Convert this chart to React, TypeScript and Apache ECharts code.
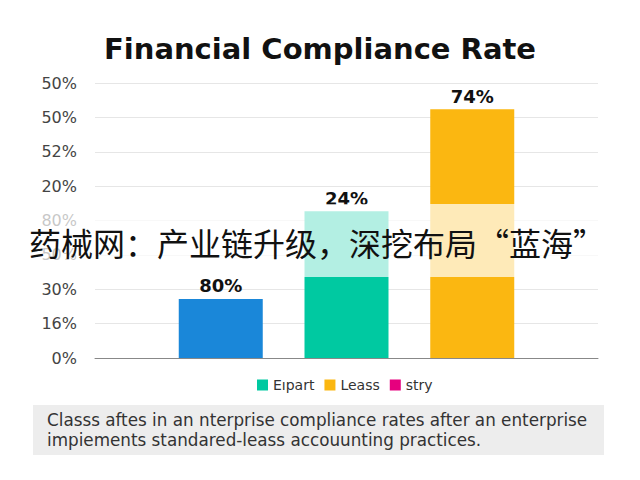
import React, { useEffect, useRef } from "react";
import * as echarts from "echarts";

const categories = ["", "A", "B", "C", ""];
const yTickLabels = ["0%", "16%", "30%", "50%", "80%", "20%", "52%", "50%", "50%"];
const baseValues = [null, 1.72, null, null, null];
const expartValues = [null, null, 4.27, null, null];
const leaseValues = [null, null, null, 7.24, null];
const storyValues: (number | null)[] = [null, null, null, null, null];
const barLabels = ["", "80%", "24%", "74%", ""];
const legendNames = ["Eıpart", "Leass", "stry"];
const titleText = "Financial Compliance Rate";
const bannerText = "药械网：产业链升级，深挖布局“蓝海”";
const noteLines = [
  "Classs aftes in an nterprise compliance rates after an enterprise",
  "impiements standared-leass accouunting practices.",
];

const FONT = "DejaVu Sans, Verdana, sans-serif";

export default function App() {
  const ref = useRef<HTMLDivElement>(null);
  useEffect(() => {
    if (!ref.current) return;
    const chart = echarts.init(ref.current, null, { renderer: "svg" });
    const labelCfg = {
      show: true,
      position: "top",
      distance: 4,
      fontSize: 18,
      fontWeight: "bold",
      color: "#111",
      fontFamily: FONT,
      formatter: (p: any) => barLabels[p.dataIndex],
    };
    const mk = (name: string, data: any[], color: string) => ({
      name,
      type: "bar",
      stack: "s",
      barWidth: 84,
      data,
      itemStyle: { color },
      label: labelCfg,
    });
    chart.setOption({
      animation: false,
      backgroundColor: "#ffffff",
      textStyle: { fontFamily: FONT },
      title: {
        text: titleText,
        left: "center",
        top: 29,
        textStyle: { fontSize: 29, fontWeight: "bold", color: "#111", fontFamily: FONT },
      },
      legend: {
        data: legendNames,
        top: 373,
        left: 252,
        icon: "rect",
        itemWidth: 11,
        itemHeight: 11,
        itemGap: 10,
        textStyle: { fontSize: 14, color: "#333", fontFamily: FONT },
      },
      grid: { left: 95, right: 42, top: 83, bottom: 122 },
      xAxis: {
        type: "category",
        data: categories,
        boundaryGap: false,
        axisTick: { show: false },
        axisLabel: { show: false },
        axisLine: { lineStyle: { color: "#888" } },
      },
      yAxis: {
        type: "value",
        min: 0,
        max: 8,
        interval: 1,
        axisLine: { show: false },
        axisTick: { show: false },
        splitLine: { lineStyle: { color: "#e6e6e6" } },
        axisLabel: {
          margin: 18,
          fontSize: 16,
          color: "#444",
          fontFamily: FONT,
          formatter: (v: number) => yTickLabels[Math.round(v)] ?? "",
        },
      },
      series: [
        mk("Base", baseValues, "#1a87d9"),
        mk("Eıpart", expartValues, "#00c9a1"),
        mk("Leass", leaseValues, "#fbb711"),
        mk("stry", storyValues, "#e6007e"),
      ],
      graphic: [
        {
          type: "rect",
          z: 100,
          shape: { x: 0, y: 204, width: 640, height: 73 },
          style: { fill: "rgba(255,255,255,0.7)" },
        },
        {
          type: "text",
          z: 101,
          x: 317,
          y: 242,
          style: {
            text: bannerText,
            fontSize: 32,
            fontFamily: "Noto Sans CJK SC",
            fill: "#111",
            align: "center",
            verticalAlign: "middle",
          },
        },
        {
          type: "rect",
          z: 50,
          shape: { x: 33, y: 405, width: 571, height: 50 },
          style: { fill: "#ededed" },
        },
        {
          type: "text",
          z: 51,
          x: 47,
          y: 410,
          style: {
            text: noteLines.join("\n"),
            fontSize: 16.8,
            lineHeight: 20,
            fill: "#333",
            fontFamily: FONT,
          },
        },
      ],
    });
    return () => chart.dispose();
  }, []);
  return (
    <div
      ref={ref}
      style={{ position: "fixed", left: 0, top: 0, width: 640, height: 480 }}
    />
  );
}
